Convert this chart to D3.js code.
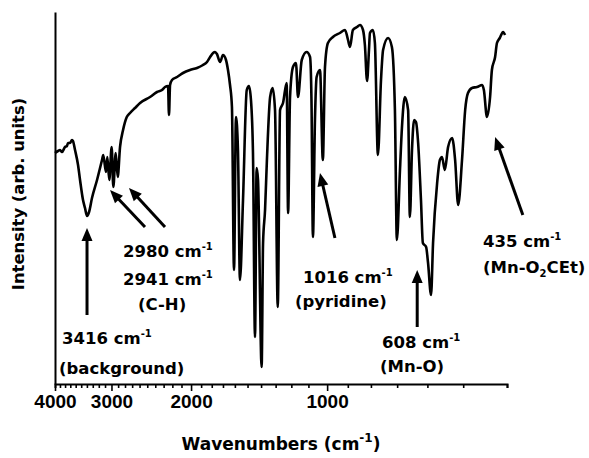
<!DOCTYPE html>
<html>
<head>
<meta charset="utf-8">
<script src="https://cdn.jsdelivr.net/npm/d3@7"></script>
<style>
body { margin: 0; background: #fff; }
text { font-family: "DejaVu Sans", sans-serif; font-weight: bold; fill: #000; }
</style>
</head>
<body>
<svg id="chart" width="589" height="458"></svg>
<script>
// IR spectrum (wavenumber in cm-1, intensity in arb. units)
var wavenumbers = [4000, 3939, 3899, 3860, 3801, 3763, 3744, 3706, 3668, 3650, 3612, 3557, 3521, 3468, 3433, 3398,
  3363, 3313, 3229, 3148, 3128, 3085, 3064, 3034, 2997, 2972, 2936, 2906, 2872, 2828, 2775, 2729, 2661, 2593,
  2465, 2379, 2319, 2284, 2249, 2238, 2226, 2204, 2148, 2084, 2011, 1940, 1882, 1844, 1815, 1788, 1770, 1753,
  1725, 1700, 1674, 1657, 1640, 1624, 1607, 1591, 1575, 1559, 1535, 1506, 1489, 1474, 1459, 1444, 1432, 1422,
  1396, 1386, 1372, 1359, 1337, 1320, 1304, 1286, 1271, 1252, 1229, 1220, 1208, 1190, 1172, 1160, 1138, 1110,
  1091, 1083, 1075, 1064, 1055, 1037, 1022, 1011, 996, 971, 937, 913, 899, 890, 877, 859, 846, 833, 825, 816,
  808, 804, 792, 784, 772, 760, 752, 733, 719, 708, 701, 690, 683, 673, 662, 656, 649, 642, 636, 629, 620, 614,
  604, 598, 589, 583, 571, 563, 557, 549, 540, 529, 521, 513, 503, 495, 488, 478, 466, 454, 450, 443, 436, 432,
  425, 421, 415, 408, 404];
var intensity = [231, 233, 234, 232, 237, 238, 241, 241, 244, 243, 234, 219, 204, 184, 176, 168,
  172, 186, 204, 224, 229, 212, 227, 204, 237, 197, 231, 207, 237, 254, 267, 271, 276, 281,
  287, 292, 294, 297, 298, 269, 299, 304, 307, 311, 314, 316, 319, 322, 327, 331, 332, 330,
  322, 329, 324, 314, 299, 277, 114, 267, 234, 104, 184, 294, 298, 284, 231, 47, 216, 204,
  17, 141, 174, 224, 287, 296, 274, 77, 274, 281, 301, 171, 287, 317, 321, 287, 324, 332,
  327, 284, 147, 264, 307, 314, 224, 317, 341, 347, 351, 354, 344, 337, 354, 357, 359, 354, 339, 303,
  334, 351, 354, 341, 229, 304, 334, 346, 337, 274, 144, 214, 257, 287, 274, 167, 234, 264, 262, 241, 184, 141,
  137, 121, 89, 141, 201, 224, 227, 214, 237, 246, 224, 179, 224, 274, 291, 296, 297, 299, 294, 267, 287, 314,
  327, 341, 346, 352, 349];
var majorTicks = [4000, 3000, 2000, 1000];
var allTicks = d3.range(400, 4001, 100);

// band assignments: label lines placed in data coordinates
var labels = [
  {wn: 3860, v: 40, text: "3416 cm", sup: "-1"},
  {wn: 3919, v: 10, text: "(background)"},
  {wn: 2828, v: 127, text: "2980 cm", sup: "-1"},
  {wn: 2828, v: 99, text: "2941 cm", sup: "-1"},
  {wn: 2621, v: 74, text: "(C-H)"},
  {wn: 1131, v: 101, text: "1016 cm", sup: "-1"},
  {wn: 1178, v: 77, text: "(pyridine)"},
  {wn: 756, v: 36, text: "608 cm", sup: "-1"},
  {wn: 764, v: 12, text: "(Mn-O)"},
  {wn: 452, v: 137, text: "435 cm", sup: "-1"},
  {wn: 452, v: 111, text: "(Mn-O", sub: "2", rest: "CEt)"}
];
var arrows = [
  {from: [3398, 69], to: [3398, 156]},
  {from: [2529, 157], to: [3022, 194]},
  {from: [2284, 157], to: [2744, 196]},
  {from: [961, 146], to: [1037, 211]},
  {from: [632, 57], to: [632, 114]},
  {from: [369, 169], to: [425, 247]}
];

var svg = d3.select('#chart');

var x = d3.scaleLog().domain([4000, 400]).range([55, 507]);
var y = d3.scaleLinear().domain([0, 372]).range([384, 12]);

// x axis
var xAxis = d3.axisBottom(x)
  .tickValues(allTicks)
  .tickSizeOuter(0)
  .tickSize(4)
  .tickFormat(function(d) { return majorTicks.indexOf(d) >= 0 ? d : ""; });

var gx = svg.append('g').attr('transform', 'translate(0,384)').call(xAxis);
gx.select('.domain').attr('stroke', '#000').attr('stroke-width', 2);
gx.selectAll('.tick line').attr('stroke', '#000').attr('stroke-width', 1.6)
  .attr('y2', function(d) { return majorTicks.indexOf(d) >= 0 ? 7 : 4; });
gx.selectAll('.tick text')
  .attr('y', 24).attr('dy', 0)
  .style('font-family', '"Liberation Sans", Arial, sans-serif')
  .style('font-size', '19px')
  .style('font-weight', 'bold');

// y axis (line only)
var gy = svg.append('g').attr('transform', 'translate(55,0)')
  .call(d3.axisLeft(y).tickValues([]).tickSizeOuter(0));
gy.select('.domain').attr('stroke', '#000').attr('stroke-width', 2);

// spectrum
var pts = wavenumbers.map(function(w, i) { return [w, intensity[i]]; });
var line = d3.line()
  .x(function(d) { return x(d[0]); })
  .y(function(d) { return y(d[1]); })
  .curve(d3.curveMonotoneX);

svg.append('path')
  .datum(pts)
  .attr('d', line)
  .attr('fill', 'none')
  .attr('stroke', '#000')
  .attr('stroke-width', 2.6)
  .attr('stroke-linejoin', 'round');

// arrows
arrows.forEach(function(a) {
  var x1 = x(a.from[0]), y1 = y(a.from[1]);
  var x2 = x(a.to[0]), y2 = y(a.to[1]);
  var ang = Math.atan2(y2 - y1, x2 - x1);
  var len = 13, hw = 5.5;
  var bx = x2 - len * Math.cos(ang), by = y2 - len * Math.sin(ang);
  svg.append('line')
    .attr('x1', x1).attr('y1', y1)
    .attr('x2', bx + 2 * Math.cos(ang)).attr('y2', by + 2 * Math.sin(ang))
    .attr('stroke', '#000').attr('stroke-width', 3);
  var p = [[x2, y2],
    [bx - hw * Math.sin(ang), by + hw * Math.cos(ang)],
    [bx + hw * Math.sin(ang), by - hw * Math.cos(ang)]];
  svg.append('polygon').attr('points', p.join(' ')).attr('fill', '#000');
});

// labels
labels.forEach(function(l) {
  var t = svg.append('text')
    .attr('x', x(l.wn)).attr('y', y(l.v))
    .style('font-size', '16.5px')
    .text(l.text);
  if (l.sup) {
    t.append('tspan').attr('dy', -7).style('font-size', '10px').text(l.sup);
  }
  if (l.sub) {
    t.append('tspan').attr('dy', 4).style('font-size', '10px').text(l.sub);
    t.append('tspan').attr('dy', -4).text(l.rest);
  }
});

// axis titles
var xt = svg.append('text')
  .attr('x', 281).attr('y', 450)
  .attr('text-anchor', 'middle')
  .style('font-size', '17px')
  .text('Wavenumbers (cm');
xt.append('tspan').attr('dy', -8).style('font-size', '12px').text('-1');
xt.append('tspan').attr('dy', 8).text(')');

svg.append('text')
  .attr('transform', 'translate(24,194) rotate(-90)')
  .attr('text-anchor', 'middle')
  .style('font-size', '16.4px')
  .text('Intensity (arb. units)');
</script>
</body>
</html>
